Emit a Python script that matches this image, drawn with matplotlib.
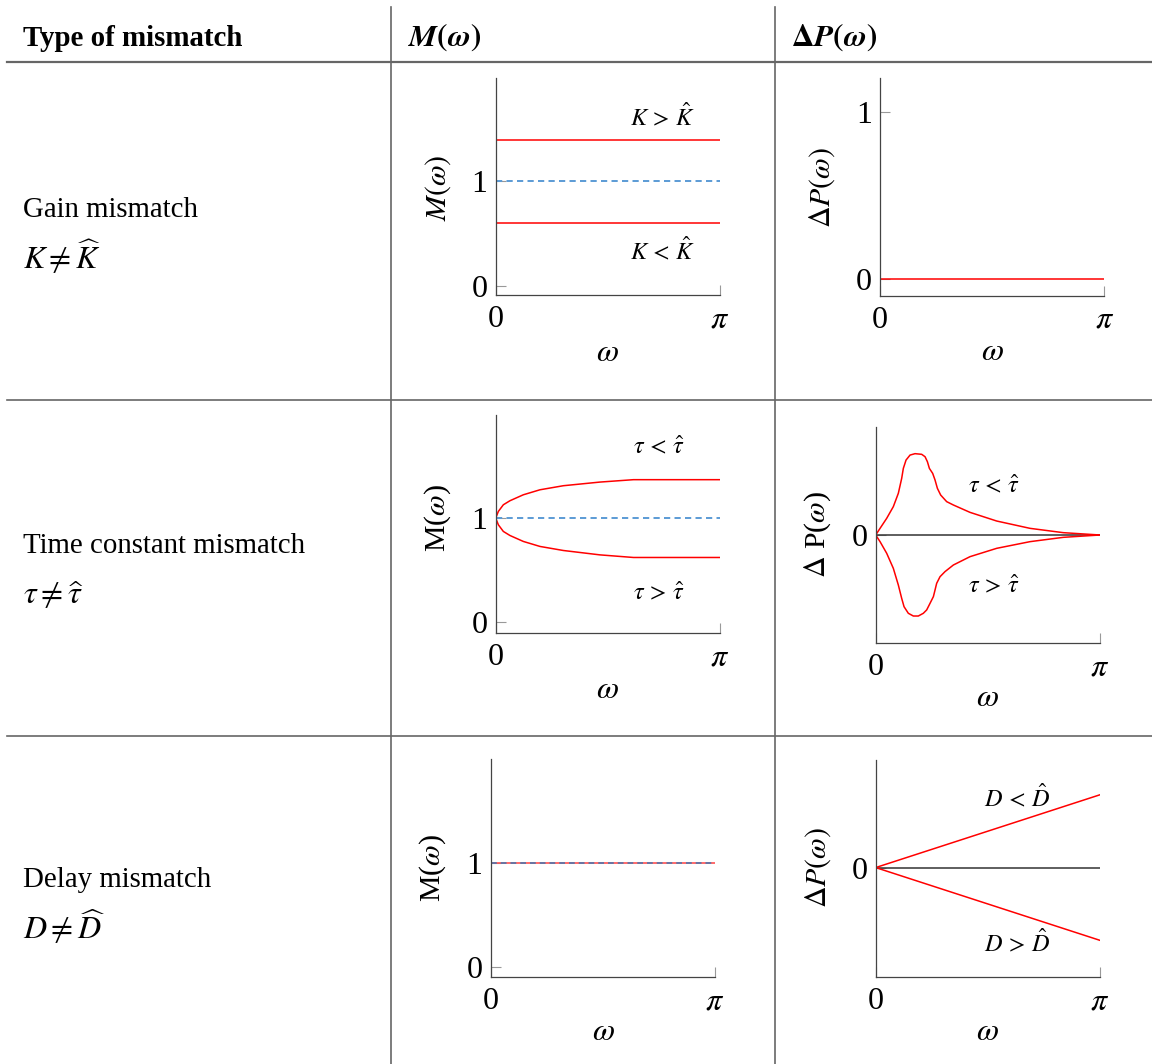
import numpy as np
import matplotlib
matplotlib.use("Agg")
import matplotlib.pyplot as plt
from matplotlib.lines import Line2D

plt.rcParams['font.family'] = 'Liberation Serif'
plt.rcParams['mathtext.fontset'] = 'stix'

# table text
row_names = ['Gain mismatch', 'Time constant mismatch', 'Delay mismatch']
row_conds = [r'$K \neq \widehat{K}$', r'$\tau \neq \widehat{\tau}$', r'$D \neq \widehat{D}$']
headers = ['Type of mismatch', r'$\boldsymbol{M(\omega)}$', r'$\mathbf{\Delta}\boldsymbol{P(\omega)}$']

# gain mismatch
gain_w = [0, np.pi]
gain_hi = [1.4, 1.4]
gain_lo = [0.6, 0.6]
nominal = [1, 1]
gain_dp = [0, 0]

# time constant mismatch, magnitude ratio
tau_w = [0, 0.037, 0.107, 0.2, 0.387, 0.62, 0.948, 1.46, 1.93, np.pi]
tau_m_lt = [1, 1.064, 1.128, 1.167, 1.224, 1.272, 1.311, 1.346, 1.369, 1.369]
tau_m_gt = [1, 0.936, 0.872, 0.833, 0.776, 0.728, 0.689, 0.647, 0.622, 0.622]

# time constant mismatch, phase difference
tau_dp_w_lt = [0, 0.061, 0.154, 0.247, 0.317, 0.364, 0.387, 0.425, 0.481, 0.551,
               0.644, 0.691, 0.724, 0.752, 0.798, 0.831, 0.864, 0.910, 0.994, 1.088,
               1.321, 1.695, 2.161, 2.628, np.pi]
tau_dp_lt = [0, 0.0615, 0.154, 0.262, 0.385, 0.523, 0.615, 0.692, 0.738, 0.751,
             0.745, 0.723, 0.677, 0.615, 0.569, 0.508, 0.431, 0.369, 0.308, 0.277,
             0.209, 0.129, 0.0615, 0.0215, 0]
tau_dp_w_gt = [0, 0.061, 0.154, 0.247, 0.317, 0.364, 0.397, 0.457, 0.527, 0.597,
               0.667, 0.714, 0.761, 0.808, 0.831, 0.854, 0.901, 0.971, 1.088, 1.321,
               1.695, 2.161, 2.628, np.pi]
tau_dp_gt = [0, -0.0615, -0.169, -0.308, -0.462, -0.585, -0.662, -0.723, -0.748, -0.748,
             -0.723, -0.692, -0.631, -0.569, -0.508, -0.446, -0.385, -0.338, -0.277, -0.2,
             -0.123, -0.0615, -0.0215, 0]

# delay mismatch
delay_w = [0, np.pi]
delay_dp_lt = [0, 0.67]
delay_dp_gt = [0, -0.67]

W, H = 1152, 1064
fig = plt.figure(figsize=(W / 100, H / 100), dpi=100)

RED = '#ff0000'
BLUE = '#5b9bd5'


def panel(box):
    l, t, r, b = box
    return fig.add_axes([l / W, 1 - b / H, (r - l) / W, (b - t) / H])


def frac(box, px, py):
    l, t, r, b = box
    return (px - l) / (r - l), (b - py) / (b - t)


def style(ax, box, ylim, yticks, ylabel, ylab_xy, xlab_xy):
    ax.set_xlim(0, np.pi)
    ax.set_ylim(*ylim)
    for s in ['top', 'right']:
        ax.spines[s].set_visible(False)
    for s in ['left', 'bottom']:
        ax.spines[s].set_color('#444444')
        ax.spines[s].set_linewidth(0.9)
    ax.set_xticks([0, np.pi], ['0', r'$\pi$'])
    ax.set_yticks(yticks, [str(v) for v in yticks])
    ax.tick_params(direction='in', length=7, width=0.8, color='#999999', labelsize=23)
    ax.tick_params(axis='x', pad=7)
    ax.tick_params(axis='y', pad=6)
    ax.set_xlabel(r'$\omega$', fontsize=23, va='center')
    ax.xaxis.set_label_coords(*frac(box, *xlab_xy))
    ax.set_ylabel(ylabel, fontsize=21.5, va='center', ha='center')
    ax.yaxis.set_label_coords(*frac(box, *ylab_xy))


def note(ax, box, px, py, s):
    x, y = frac(box, px, py)
    ax.text(x, y, s, transform=ax.transAxes, fontsize=17.5, ha='center', va='center')


# row 1: gain
b = (495.7, 78, 720, 295.3)
ax = panel(b)
ax.plot(gain_w, gain_hi, color=RED, lw=1.1)
ax.plot(gain_w, gain_lo, color=RED, lw=1.1)
ax.plot(gain_w, nominal, color=BLUE, lw=1.4, ls=(0, (3.2, 2.2)))
style(ax, b, (-0.09, 1.99), [0, 1], r'$M(\omega)$', (438, 188), (607, 353))
note(ax, b, 663, 117, r'$K\,>\,\hat{K}$')
note(ax, b, 663, 251, r'$K\,<\,\hat{K}$')

b = (880, 78.3, 1104.3, 296)
ax = panel(b)
ax.plot(gain_w, gain_dp, color=RED, lw=1.1)
style(ax, b, (-0.1, 1.2), [0, 1], r'$\Delta P(\omega)$', (822, 188), (992, 353))

# row 2: time constant
b = (495.7, 415, 720, 633.3)
ax = panel(b)
ax.plot(tau_w, tau_m_lt, color=RED, lw=1.1)
ax.plot(tau_w, tau_m_gt, color=RED, lw=1.1)
ax.plot(gain_w, nominal, color=BLUE, lw=1.4, ls=(0, (3.2, 2.2)))
style(ax, b, (-0.106, 1.99), [0, 1], r'M($\omega$)', (438, 518), (607, 690))
note(ax, b, 659, 447, r'$\tau\,<\,\hat{\tau}$')
note(ax, b, 659, 593, r'$\tau\,>\,\hat{\tau}$')

b = (875.7, 426.7, 1100, 643.3)
ax = panel(b)
ax.axhline(0, color='#333333', lw=1.1)
ax.plot(tau_dp_w_lt, tau_dp_lt, color=RED, lw=1.1)
ax.plot(tau_dp_w_gt, tau_dp_gt, color=RED, lw=1.1)
style(ax, b, (-1, 1), [0], r'$\Delta$ P($\omega$)', (818, 535), (987, 698))
note(ax, b, 994, 486, r'$\tau\,<\,\hat{\tau}$')
note(ax, b, 994, 586, r'$\tau\,>\,\hat{\tau}$')

# row 3: delay
b = (490.7, 759.3, 715, 977.3)
ax = panel(b)
ax.plot(gain_w, nominal, color='#ff5050', lw=1.2)
ax.plot(gain_w, nominal, color='#5b75a8', lw=1.3, ls=(0, (3.2, 2.2)))
style(ax, b, (-0.1, 1.99), [0, 1], r'M($\omega$)', (433, 868), (603, 1033))

b = (875.7, 760, 1100, 977.3)
ax = panel(b)
ax.axhline(0, color='#333333', lw=1.1)
ax.plot(delay_w, delay_dp_lt, color=RED, lw=1.1)
ax.plot(delay_w, delay_dp_gt, color=RED, lw=1.1)
style(ax, b, (-1.01, 0.99), [0], r'$\Delta P(\omega)$', (818, 868), (987, 1033))
note(ax, b, 1017, 798, r'$D\,<\,\hat{D}$')
note(ax, b, 1017, 943, r'$D\,>\,\hat{D}$')

# table rules and text
rule = dict(color='#666666', lw=1.2, transform=fig.transFigure)
fig.add_artist(Line2D([7 / W, 1], [1 - 62 / H] * 2, lw=1.6, color='#666666', transform=fig.transFigure))
for y in [400, 736]:
    fig.add_artist(Line2D([7 / W, 1], [1 - y / H] * 2, **rule))
for x in [391, 775]:
    fig.add_artist(Line2D([x / W] * 2, [1 - 7 / H, 0], **rule))

fig.text(23 / W, 1 - 46 / H, headers[0], fontsize=20.8, fontweight='bold', va='baseline')
fig.text(408 / W, 1 - 46 / H, headers[1], fontsize=22.5, va='baseline')
fig.text(791 / W, 1 - 46 / H, headers[2], fontsize=22.5, va='baseline')

name_y = [216.7, 553.3, 886.7]
cond_y = [269.3, 604, 939.3]
for name, cond, ny, cy in zip(row_names, row_conds, name_y, cond_y):
    fig.text(23 / W, 1 - ny / H, name, fontsize=20.8, va='baseline')
    fig.text(23 / W, 1 - cy / H, cond, fontsize=23, va='baseline')

fig.savefig('out.png', dpi=100)
